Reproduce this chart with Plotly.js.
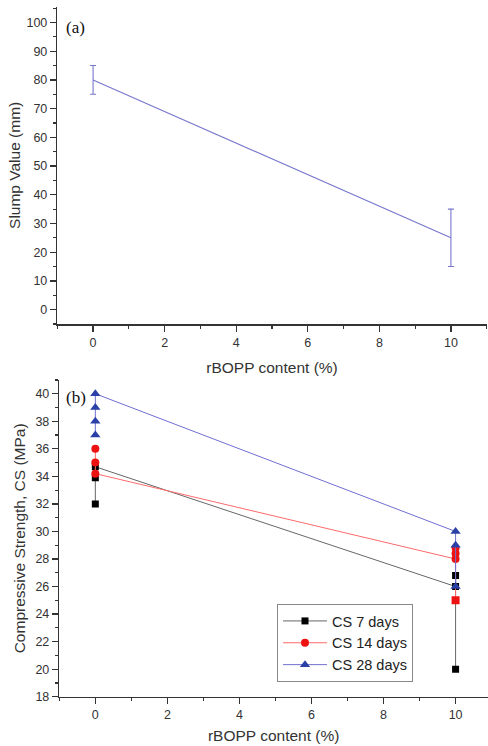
<!DOCTYPE html>
<html>
<head>
<meta charset="utf-8">
<script src="https://cdn.plot.ly/plotly-3.0.1.min.js"></script>
<style>html,body{margin:0;padding:0;background:#fff;}#chart{width:488px;height:746px;}</style>
</head>
<body>
<div id="chart"></div>
<script>
// Panel (a): slump
var slumpX = [0, 10];
var slumpY = [80, 25];
var slumpErr = [5, 10];

// Panel (b): compressive strength replicates
var cs7X = [0, 0, 0, 10, 10, 10];
var cs7Y = [32, 33.9, 34.7, 26, 26.8, 20];
var cs14X = [0, 0, 0, 10, 10, 10, 10];
var cs14Y = [36, 35, 34.2, 28, 28.4, 28.8, 25];
var cs28X = [0, 0, 0, 0, 10, 10, 10];
var cs28Y = [37, 38, 39, 40, 30, 29, 26];

var seriesNames = ['CS 7 days', 'CS 14 days', 'CS 28 days'];

var W = 488, H = 746;
function fx(px) { return px / W; }
function fy(py) { return 1 - py / H; }

var FAM = 'Liberation Sans, Arial, sans-serif';
var axisFont = {family: FAM, size: 12.5, color: '#333'};
var titleFont = {family: FAM, size: 15.5, color: '#333'};

var traces = [
  {
    x: slumpX, y: slumpY, xaxis: 'x', yaxis: 'y',
    type: 'scatter', mode: 'lines',
    line: {color: '#7777cc', width: 1.1},
    error_y: {type: 'data', array: slumpErr, visible: true, color: '#7777cc', thickness: 1.1, width: 3},
    showlegend: false
  },
  {
    x: cs7X, y: cs7Y, xaxis: 'x2', yaxis: 'y2',
    type: 'scatter', mode: 'lines+markers', name: seriesNames[0],
    line: {color: '#666666', width: 1},
    marker: {symbol: 'square', size: 7, color: '#000000'}
  },
  {
    x: cs14X, y: cs14Y, xaxis: 'x2', yaxis: 'y2',
    type: 'scatter', mode: 'lines+markers', name: seriesNames[1],
    line: {color: '#ff6a6a', width: 1},
    marker: {symbol: ['circle', 'circle', 'circle', 'circle', 'circle', 'circle', 'square'], size: 8, color: '#ee1111'}
  },
  {
    x: cs28X, y: cs28Y, xaxis: 'x2', yaxis: 'y2',
    type: 'scatter', mode: 'lines+markers', name: seriesNames[2],
    line: {color: '#6f6fd0', width: 1},
    marker: {symbol: 'triangle-up', size: 9, color: '#2a40a6'}
  }
];

function baseAxis() {
  return {
    showgrid: false, zeroline: false, showline: true,
    linecolor: '#333', linewidth: 1.5,
    ticks: 'outside', ticklen: 6, tickwidth: 1.2, tickcolor: '#333',
    tickfont: axisFont, mirror: false, automargin: false
  };
}

var layout = {
  width: W, height: H,
  margin: {l: 0, r: 0, t: 0, b: 0},
  paper_bgcolor: '#fff', plot_bgcolor: '#fff',
  showlegend: true,
  legend: {
    x: fx(277), y: fy(604), xanchor: 'left', yanchor: 'top',
    bordercolor: '#888', borderwidth: 1, bgcolor: '#fff',
    font: {family: FAM, size: 14.5, color: '#222'},
    itemwidth: 44, tracegroupgap: 0
  },
  xaxis: Object.assign(baseAxis(), {
    domain: [fx(57.3), fx(486.7)], range: [-1, 11], dtick: 2, tick0: 0,
    minor: {dtick: 1, ticks: 'outside', ticklen: 3, tickcolor: '#333'},
    anchor: 'y',
    title: {text: 'rBOPP content (%)', font: titleFont, standoff: 13}
  }),
  yaxis: Object.assign(baseAxis(), {
    domain: [fy(324), fy(6.7)], range: [-5, 105.5], dtick: 10, tick0: 0,
    minor: {dtick: 5, ticks: 'outside', ticklen: 3, tickcolor: '#333'},
    anchor: 'x',
    title: {text: 'Slump Value (mm)', font: titleFont, standoff: 2}
  }),
  xaxis2: Object.assign(baseAxis(), {
    domain: [fx(59.3), 1], range: [-1, 10.9], dtick: 2, tick0: 0,
    minor: {dtick: 1, ticks: 'outside', ticklen: 3, tickcolor: '#333'},
    anchor: 'y2',
    title: {text: 'rBOPP content (%)', font: titleFont, standoff: 9}
  }),
  yaxis2: Object.assign(baseAxis(), {
    domain: [fy(696.7), fy(380)], range: [18, 41], dtick: 2, tick0: 18,
    minor: {dtick: 1, ticks: 'outside', ticklen: 3, tickcolor: '#333'},
    anchor: 'x2',
    title: {text: 'Compressive Strength, CS (MPa)', font: titleFont, standoff: 6}
  }),
  annotations: [
    {text: '(a)', xref: 'paper', yref: 'paper', x: fx(64), y: fy(27), xanchor: 'left', yanchor: 'middle',
     showarrow: false, font: {family: 'Liberation Serif, Times New Roman, serif', size: 17, color: '#111'}},
    {text: '(b)', xref: 'paper', yref: 'paper', x: fx(64), y: fy(397), xanchor: 'left', yanchor: 'middle',
     showarrow: false, font: {family: 'Liberation Serif, Times New Roman, serif', size: 17, color: '#111'}}
  ]
};

Plotly.newPlot('chart', traces, layout, {displayModeBar: false, staticPlot: true});
</script>
</body>
</html>
